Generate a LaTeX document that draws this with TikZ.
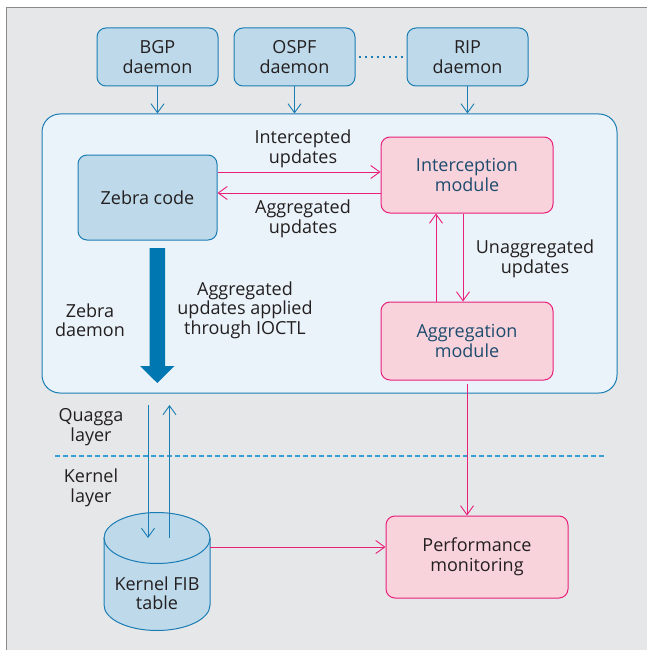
\documentclass[tikz,border=0pt]{standalone}
\usepackage{fontspec}
\setmainfont{Open Sans}
\usetikzlibrary{arrows.meta}
\definecolor{bgc}{HTML}{E6E7E8}
\definecolor{framec}{HTML}{8A8A8A}
\definecolor{bfill}{HTML}{BED9EA}
\definecolor{bline}{HTML}{1A7DB4}
\definecolor{zfill}{HTML}{EAF3FA}
\definecolor{pfill}{HTML}{F9D3DC}
\definecolor{pline}{HTML}{E8207A}
\definecolor{txt}{HTML}{231F20}
\definecolor{ptxt}{HTML}{1D4C6E}
\definecolor{thickc}{HTML}{0077B0}
\definecolor{dashc}{HTML}{3A9FD0}
\tikzset{
  bbox/.style={draw=bline, fill=bfill, line width=1pt, rounded corners=9pt, align=center, text=txt, inner sep=0pt},
  pbox/.style={draw=pline, fill=pfill, line width=1pt, rounded corners=9pt, align=center, text=ptxt, inner sep=0pt},
  zbox/.style={draw=bline, fill=zfill, line width=1pt, rounded corners=18pt, inner sep=0pt},
  lbl/.style={align=center, text=txt, inner sep=0pt},
  barr/.style={draw=bline, line width=0.9pt, -{Straight Barb[length=9pt,width=13pt,line width=0.9pt]}},
  parr/.style={draw=pline, line width=0.9pt, -{Straight Barb[length=9pt,width=13pt,line width=0.9pt]}},
}
\begin{document}
\begin{tikzpicture}[x=1pt,y=-1pt,font=\fontsize{18}{19.5}\selectfont]
\useasboundingbox (0,0) rectangle (647,650);
\fill[bgc] (6.5,7.5) rectangle (660,660);
\draw[framec, line width=1.6pt] (6.5,660) -- (6.5,7.5) -- (660,7.5);

% daemons
\node[bbox, minimum width=121pt, minimum height=58pt] (bgp) at (157.5,57) {BGP\\daemon};
\node[bbox, minimum width=121pt, minimum height=58pt] (ospf) at (294.5,57) {OSPF\\daemon};
\node[bbox, minimum width=121pt, minimum height=58pt] (rip) at (467.5,57) {RIP\\daemon};
\draw[bline, line width=2.8pt, dash pattern=on 2.8pt off 3.2pt] (ospf.east) ++(3pt,0) -- ([xshift=-2pt]rip.west);

% zebra daemon box
\node[zbox, minimum width=575pt, minimum height=279pt] (zd) at (329.5,253.5) {};

\draw[barr] (bgp.south) -- (bgp.south |- zd.north);
\draw[barr] (ospf.south) -- (ospf.south |- zd.north);
\draw[barr] (rip.south) -- (rip.south |- zd.north);

\node[bbox, minimum width=139pt, minimum height=85pt] (zebra) at (147.5,197.5) {Zebra code};
\node[pbox, minimum width=172pt, minimum height=76pt] (icp) at (467,175) {Interception\\module};
\node[pbox, minimum width=172pt, minimum height=78pt] (agg) at (467,341) {Aggregation\\module};

\draw[parr] (zebra.east |- 0,172) -- (icp.west |- 0,172);
\draw[parr] (icp.west |- 0,193) -- (zebra.east |- 0,193);
\node[lbl] (l1) at (303,149) {Intercepted\\updates};
\node[lbl] (l2) at (303,219) {Aggregated\\updates};

\draw[parr] (agg.north -| 436,0) -- (icp.south -| 436,0);
\draw[parr] (icp.south -| 463,0) -- (agg.north -| 463,0);
\node[lbl] (l3) at (535,259) {Unaggregated\\updates};

% thick arrow
\fill[thickc] (149.5,248) -- (165,248) -- (165,366) -- (174.5,366) -- (157.3,383) -- (140,366) -- (149.5,366) -- cycle;
\node[lbl] (l4) at (90,320) {Zebra\\daemon};
\node[lbl] (l5) at (245,310) {Aggregated\\updates applied\\through IOCTL};

% layers
\node[lbl] (ql) at (91,427) {Quagga\\layer};
\draw[dashc, line width=1.3pt, dash pattern=on 4.5pt off 3.5pt] (55,456) -- (606,456);
\node[lbl] (kl) at (91,488) {Kernel\\layer};

% cylinder
\coordinate (fibc) at (157,538);
\fill[bfill] (104,538) -- (104,605) arc[start angle=180,end angle=0,x radius=53,y radius=25.5] -- (210,538) arc[start angle=0,end angle=-180,x radius=53,y radius=25.5] -- cycle;
\draw[bline, line width=1pt] (104,538) -- (104,605) arc[start angle=180,end angle=0,x radius=53,y radius=25.5] -- (210,538);
\draw[bline, line width=1pt] (fibc) ellipse[x radius=53, y radius=25.5];
\node[lbl, minimum width=106pt, minimum height=92pt] (fib) at (157,571) {};
\node[lbl] (fibt) at (157,593) {Kernel FIB\\table};

\coordinate (qd) at (148,405);
\coordinate (qu) at (169.5,405);
\draw[barr] (qd) -- (qd |- fibc);
\draw[barr] (qu |- fibc) -- (qu);

% performance
\node[pbox, text=txt, minimum width=182pt, minimum height=82pt] (perf) at (477,557) {Performance\\monitoring};
\draw[parr] (zd.south -| 467,0) ++(0,10pt) -- (perf.north -| 467,0);
\draw[parr] (fib.east |- 0,547) -- (perf.west |- 0,547);
\end{tikzpicture}
\end{document}
